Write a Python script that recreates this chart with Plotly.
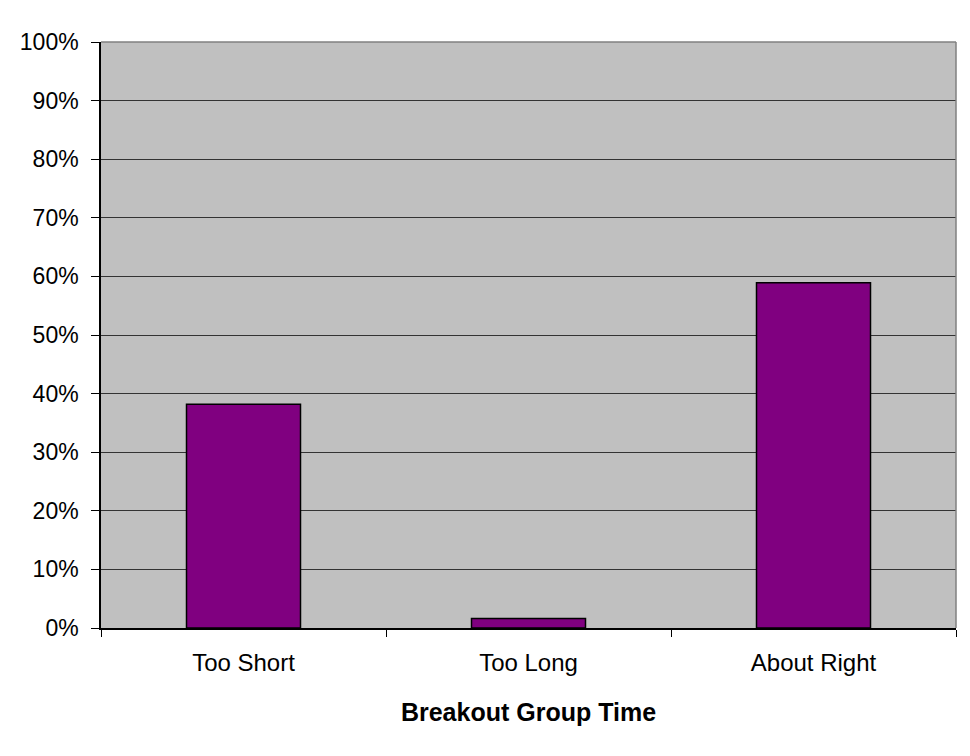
import plotly.graph_objects as go

categories = ["Too Short", "Too Long", "About Right"]
values = [0.382, 0.016, 0.589]
y_ticks = [i / 10 for i in range(11)]
y_tick_labels = [f"{i*10}%" for i in range(11)]

fig = go.Figure()
fig.add_trace(go.Bar(
    x=categories, y=values,
    marker=dict(color="#800080", line=dict(color="#000000", width=1.5)),
    width=0.4,
))

fig.update_layout(
    width=962, height=748,
    margin=dict(l=93, r=14, t=34, b=128),
    paper_bgcolor="white",
    plot_bgcolor="#C0C0C0",
    showlegend=False,
    font=dict(family="Liberation Sans, Arial, sans-serif", size=23, color="black"),
)
fig.update_xaxes(
    tickson="boundaries", ticks="outside", ticklen=7, tickcolor="black",
    showline=True, linecolor="black", linewidth=1.5,
    showgrid=False,
    ticklabelstandoff=12,
    title=dict(text="<b>Breakout Group Time</b>", font=dict(size=25), standoff=29),
    tickfont=dict(size=24),
)
fig.update_yaxes(
    range=[0, 1], tickvals=y_ticks, ticktext=y_tick_labels,
    ticks="outside", ticklen=8, tickcolor="black",
    showline=True, linecolor="black", linewidth=1.5,
    showgrid=True, gridcolor="#333333", gridwidth=1,
    zeroline=False,
    ticklabelstandoff=8,
    tickfont=dict(size=23),
)
fig.add_shape(type="line", xref="paper", yref="paper", x0=1, x1=1, y0=0, y1=1,
              line=dict(color="#808080", width=1.5))
fig.add_shape(type="line", xref="paper", yref="paper", x0=0, x1=1, y0=1, y1=1,
              line=dict(color="#808080", width=1.5))

fig.write_html("out.html")
